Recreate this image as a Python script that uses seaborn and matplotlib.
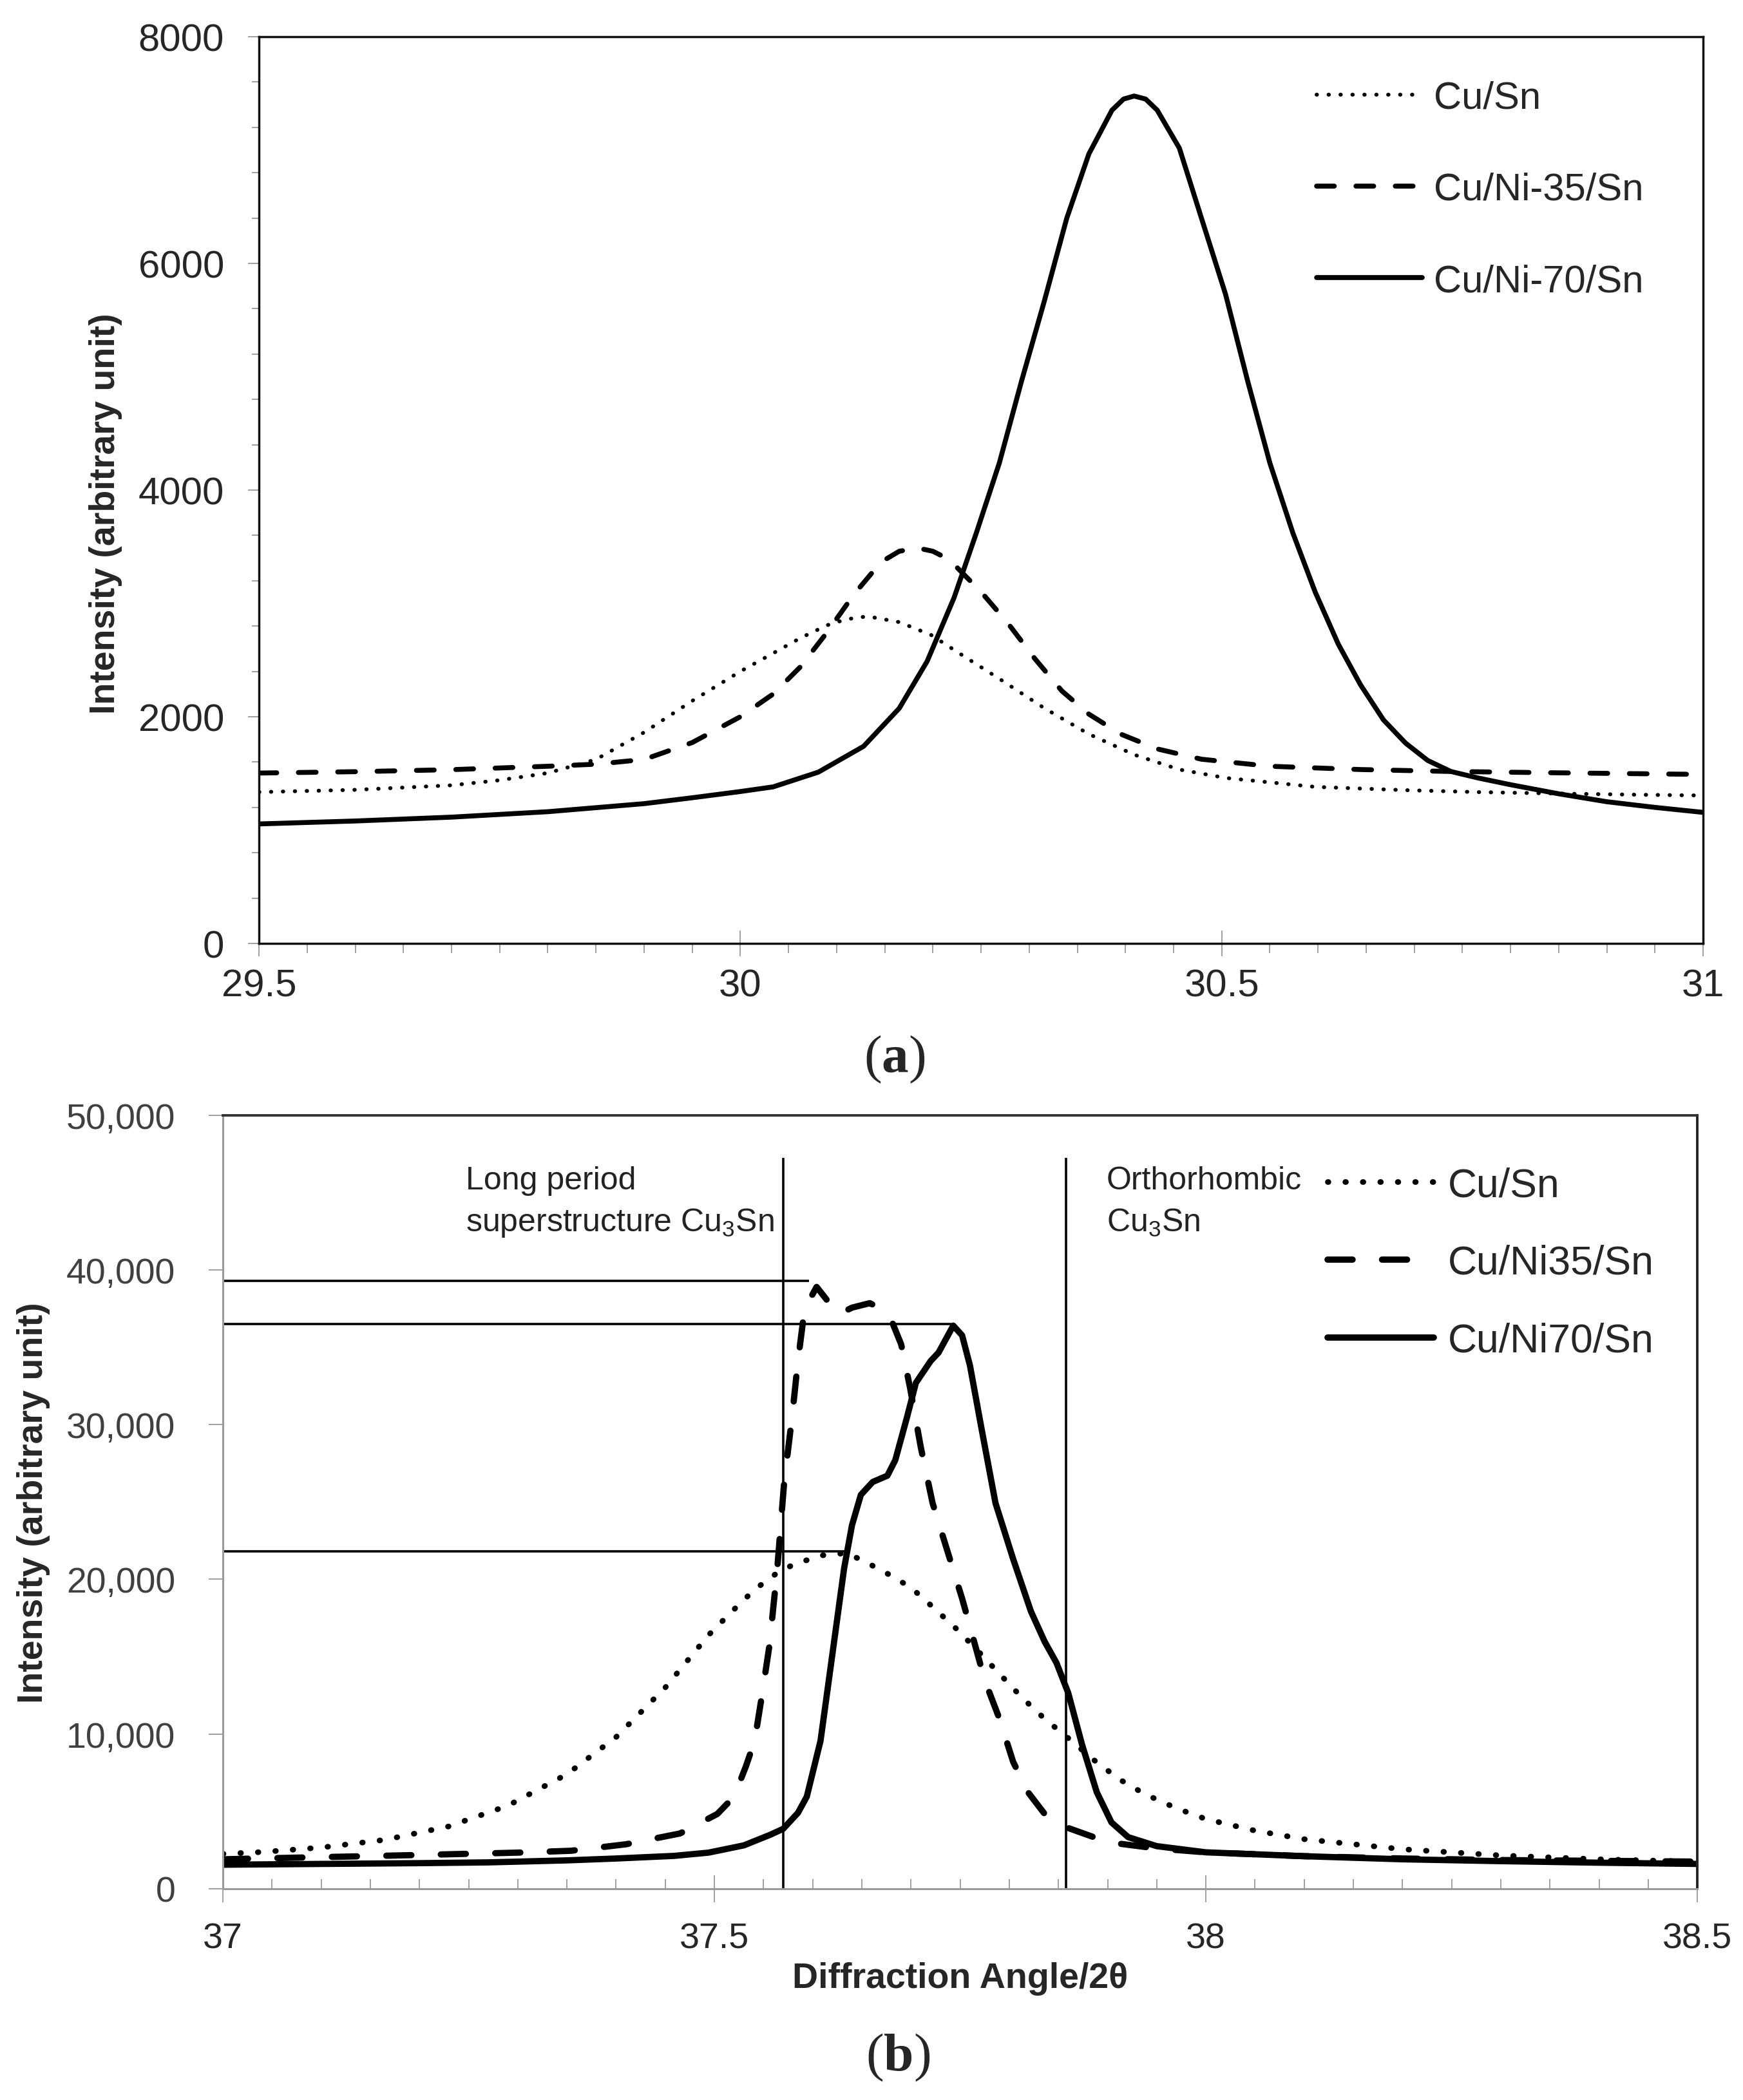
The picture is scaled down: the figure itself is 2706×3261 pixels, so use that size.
import matplotlib
matplotlib.use('Agg')
import matplotlib.pyplot as plt
import seaborn as sns
from matplotlib.ticker import MultipleLocator, FuncFormatter

# ---- panel (a): 29.5-31 deg ----
a_cusn_x = [29.5, 29.6, 29.7, 29.75, 29.8, 29.85, 29.9, 29.95, 30.0, 30.034, 30.062, 30.09,
            30.11, 30.132, 30.165, 30.198, 30.231, 30.269, 30.316, 30.362, 30.409, 30.456,
            30.504, 30.597, 30.691, 30.766, 30.85, 30.93, 31.0]
a_cusn_y = [1335, 1355, 1395, 1440, 1503, 1623, 1862, 2140, 2400, 2560, 2693, 2807,
            2860, 2886, 2835, 2722, 2540, 2335, 2074, 1847, 1665, 1534,
            1460, 1381, 1352, 1335, 1322, 1312, 1305]

a_ni35_x = [29.5, 29.6, 29.7, 29.8, 29.85, 29.9, 29.95, 30.0, 30.034, 30.062, 30.09, 30.118,
            30.146, 30.165, 30.184, 30.2, 30.217, 30.25, 30.278, 30.306, 30.334, 30.362, 30.395,
            30.433, 30.479, 30.55, 30.644, 30.738, 30.85, 31.0]
a_ni35_y = [1503, 1515, 1533, 1563, 1581, 1623, 1772, 2000, 2200, 2437, 2744, 3080,
            3364, 3460, 3489, 3460, 3386, 3102, 2824, 2511, 2227, 2023, 1847,
            1716, 1625, 1563, 1534, 1517, 1505, 1491]

a_ni70_x = [29.5, 29.6, 29.7, 29.8, 29.9, 29.95, 30.0, 30.034, 30.081, 30.128, 30.165, 30.194,
            30.222, 30.245, 30.269, 30.292, 30.316, 30.339, 30.362, 30.386, 30.398, 30.409,
            30.421, 30.433, 30.456, 30.479, 30.504, 30.527, 30.55, 30.574, 30.597, 30.621,
            30.644, 30.668, 30.691, 30.714, 30.738, 30.766, 30.8, 30.85, 30.9, 30.95, 31.0]
a_ni70_y = [1054, 1080, 1114, 1162, 1233, 1285, 1340, 1381, 1511, 1739, 2074, 2489,
            3051, 3619, 4239, 4960, 5676, 6398, 6966, 7352, 7450, 7477,
            7450, 7352, 7017, 6398, 5727, 4960, 4239, 3619, 3102, 2642,
            2284, 1972, 1767, 1614, 1517, 1460, 1400, 1320, 1250, 1200, 1156]

a_labels = ['Cu/Sn', 'Cu/Ni-35/Sn', 'Cu/Ni-70/Sn']
a_xticks = [29.5, 30, 30.5, 31]
a_yticks = [0, 2000, 4000, 6000, 8000]

# ---- panel (b): 37-38.5 deg ----
b_cusn_x = [37.0, 37.04, 37.1, 37.165, 37.23, 37.29, 37.35, 37.4, 37.45, 37.494, 37.518, 37.541,
            37.564, 37.582, 37.61, 37.635, 37.67, 37.7, 37.722, 37.746, 37.769, 37.79, 37.813,
            37.836, 37.86, 37.886, 37.912, 37.938, 37.97, 38.0, 38.05, 38.1, 38.2, 38.3, 38.4, 38.5]
b_cusn_y = [2250, 2370, 2660, 3160, 4030, 5370, 7400, 9800, 13000, 16390, 17930, 19340,
            20420, 21000, 21550, 21700, 20590, 19470, 18220, 16810, 15310, 13890, 12350,
            10980, 9730, 8320, 7070, 6110, 5200, 4500, 3750, 3200, 2550, 2150, 1900, 1750]

b_ni35_x = [37.0, 37.07, 37.13, 37.2, 37.3, 37.354, 37.41, 37.465, 37.503, 37.52, 37.532, 37.541,
            37.548, 37.556, 37.564, 37.571, 37.579, 37.585, 37.59, 37.596, 37.604, 37.617, 37.627,
            37.64, 37.658, 37.672, 37.681, 37.69, 37.699, 37.71, 37.722, 37.737, 37.752, 37.763,
            37.775, 37.79, 37.804, 37.819, 37.836, 37.857, 37.886, 37.912, 37.95, 38.0, 38.1,
            38.2, 38.3, 38.4, 38.5]
b_ni35_y = [1900, 2000, 2080, 2180, 2330, 2450, 2870, 3570, 4830, 5950, 7900, 9570,
            12350, 15720, 20720, 26290, 30490, 34110, 36600, 37980, 38900, 37850, 37150,
            37560, 37850, 37440, 36600, 35190, 32400, 28530, 24920, 21840, 18760, 16260,
            13480, 10980, 8190, 6240, 4830, 3990, 3330, 2910, 2600, 2350, 2100,
            1950, 1850, 1800, 1750]

b_ni70_x = [37.0, 37.1, 37.2, 37.27, 37.35, 37.4, 37.459, 37.494, 37.53, 37.557, 37.57, 37.585,
            37.594, 37.608, 37.62, 37.632, 37.64, 37.649, 37.661, 37.676, 37.684, 37.696, 37.705,
            37.72, 37.728, 37.743, 37.752, 37.76, 37.772, 37.786, 37.804, 37.822, 37.836, 37.848,
            37.86, 37.874, 37.889, 37.904, 37.921, 37.95, 38.0, 38.1, 38.2, 38.3, 38.4, 38.5]
b_ni70_y = [1550, 1600, 1650, 1700, 1830, 1950, 2120, 2330, 2800, 3490, 3870, 4900,
            5950, 9570, 15140, 20720, 23500, 25460, 26290, 26700, 27700, 30490, 32700,
            34110, 34650, 36400, 35770, 33820, 29660, 24920, 21300, 17930, 15970, 14600,
            12650, 9320, 6240, 4280, 3330, 2750, 2350, 2100, 1900, 1780, 1680, 1600]

b_labels = ['Cu/Sn', 'Cu/Ni35/Sn', 'Cu/Ni70/Sn']
b_xticks = [37, 37.5, 38, 38.5]
b_yticks = [0, 10000, 20000, 30000, 40000, 50000]

# phase marker lines and peak-height guides
b_vline_x = [37.57, 37.858]
b_vline_top = 47250
b_hline_y = [39300, 36500, 21800]
b_hline_end = [37.596, 37.741, 37.638]

sns.set_style('ticks')
plt.rcParams['font.family'] = ['Liberation Sans', 'DejaVu Sans']
plt.rcParams['mathtext.fontset'] = 'custom'
plt.rcParams['mathtext.default'] = 'regular'
plt.rcParams['mathtext.bf'] = 'Liberation Serif:bold'

fig = plt.figure(figsize=(27.06, 32.62), dpi=100)
ax1 = fig.add_axes([0.1486, 0.5506, 0.8285, 0.4316])
ax2 = fig.add_axes([0.1279, 0.1006, 0.8459, 0.3682])

num_fmt = FuncFormatter(lambda v, p: '%g' % v)

# ---------- (a) ----------
sns.lineplot(x=a_cusn_x, y=a_cusn_y, ax=ax1, color='black', lw=4.3, label=a_labels[0],
             linestyle=(0, (0.1, 3.0)), dash_capstyle='round')
sns.lineplot(x=a_ni35_x, y=a_ni35_y, ax=ax1, color='black', lw=5.5, label=a_labels[1],
             linestyle=(0, (3.6, 4.4)), dash_capstyle='round')
sns.lineplot(x=a_ni70_x, y=a_ni70_y, ax=ax1, color='black', lw=5.5, label=a_labels[2],
             solid_capstyle='round')

ax1.set_xlim(29.5, 31)
ax1.set_ylim(0, 8000)
ax1.set_xticks(a_xticks)
ax1.set_yticks(a_yticks)
ax1.xaxis.set_major_formatter(num_fmt)
ax1.xaxis.set_minor_locator(MultipleLocator(0.05))
ax1.yaxis.set_minor_locator(MultipleLocator(400))
ax1.tick_params(axis='x', which='major', direction='inout', length=29, width=1.3,
                color='#999999', labelsize=43, pad=13)
ax1.tick_params(axis='x', which='minor', direction='out', length=11, width=1.3, color='#999999')
ax1.tick_params(axis='y', which='major', direction='out', length=12, width=1.3,
                color='#999999', labelsize=43, pad=27)
ax1.tick_params(axis='y', which='minor', direction='out', length=8, width=1.3, color='#999999')
for s in ax1.spines.values():
    s.set_color('#111111')
    s.set_linewidth(2.5)
ax1.set_xlabel('')
ax1.set_ylabel('Intensity (arbitrary unit)', fontsize=40, fontweight='bold')
ax1.yaxis.set_label_coords(-0.0946, 0.475)
ax1.legend(loc='upper left', bbox_to_anchor=(0.7324, 0.952), frameon=False, fontsize=43,
           handlelength=2.75, handletextpad=0.3, labelspacing=1.46, borderpad=0, borderaxespad=0)

# ---------- (b) ----------
ax2.vlines(b_vline_x, 0, b_vline_top, color='black', lw=2.6, zorder=1)
ax2.hlines(b_hline_y, 37, b_hline_end, color='black', lw=2.6, zorder=1)

sns.lineplot(x=b_cusn_x, y=b_cusn_y, ax=ax2, color='black', lw=6.3, label=b_labels[0],
             linestyle=(0, (0.1, 3.0)), dash_capstyle='round')
sns.lineplot(x=b_ni35_x, y=b_ni35_y, ax=ax2, color='black', lw=7.0, label=b_labels[1],
             linestyle=(0, (4.0, 4.7)), dash_capstyle='round')
sns.lineplot(x=b_ni70_x, y=b_ni70_y, ax=ax2, color='black', lw=7.0, label=b_labels[2],
             solid_capstyle='round')

ax2.text(37.247, 45800, 'Long period', fontsize=36, va='center', ha='left', color='#222222')
ax2.text(37.247, 43100, 'superstructure Cu$_3$Sn', fontsize=36, va='center', ha='left',
         color='#222222')
ax2.text(37.899, 45800, 'Orthorhombic', fontsize=36, va='center', ha='left', color='#222222')
ax2.text(37.899, 43100, 'Cu$_3$Sn', fontsize=36, va='center', ha='left', color='#222222')

ax2.set_xlim(37, 38.5)
ax2.set_ylim(0, 50000)
ax2.set_xticks(b_xticks)
ax2.set_yticks(b_yticks)
ax2.xaxis.set_major_formatter(num_fmt)
ax2.yaxis.set_major_formatter(FuncFormatter(lambda v, p: '{:,.0f}'.format(v)))
ax2.xaxis.set_minor_locator(MultipleLocator(0.05))
ax2.tick_params(axis='x', which='major', direction='inout', length=30, width=1.3,
                color='#999999', labelsize=40, pad=22)
ax2.tick_params(axis='x', which='minor', direction='in', length=11, width=1.3, color='#999999')
ax2.tick_params(axis='y', which='major', direction='out', length=16, width=1.3,
                color='#999999', labelsize=40, labelcolor='#404040', pad=37)
ax2.spines['left'].set_color('#9a9a9a')
ax2.spines['bottom'].set_color('#9a9a9a')
ax2.spines['left'].set_linewidth(2.2)
ax2.spines['bottom'].set_linewidth(2.2)
ax2.spines['top'].set_color('#333333')
ax2.spines['right'].set_color('#222222')
ax2.spines['top'].set_linewidth(2.8)
ax2.spines['right'].set_linewidth(2.8)
ax2.set_xlabel('Diffraction Angle/2θ', fontsize=40, fontweight='bold')
ax2.xaxis.set_label_coords(0.5, -0.094)
ax2.set_ylabel('Intensity (arbitrary unit)', fontsize=40, fontweight='bold')
ax2.yaxis.set_label_coords(-0.117, 0.5)
ax2.legend(loc='upper left', bbox_to_anchor=(0.749, 0.934), frameon=False, fontsize=45,
           handlelength=2.65, handletextpad=0.35, labelspacing=0.99, borderpad=0, borderaxespad=0)

# panel letters
fig.text(1389 / 2706, 1 - 1645 / 3262, r'($\mathbf{a}$)', fontsize=60, ha='center', va='center',
         family=['Liberation Serif', 'DejaVu Serif'])
fig.text(1394 / 2706, 1 - 3195 / 3262, r'($\mathbf{b}$)', fontsize=60, ha='center', va='center',
         family=['Liberation Serif', 'DejaVu Serif'])

fig.savefig('out.png', dpi=100, facecolor='white')
